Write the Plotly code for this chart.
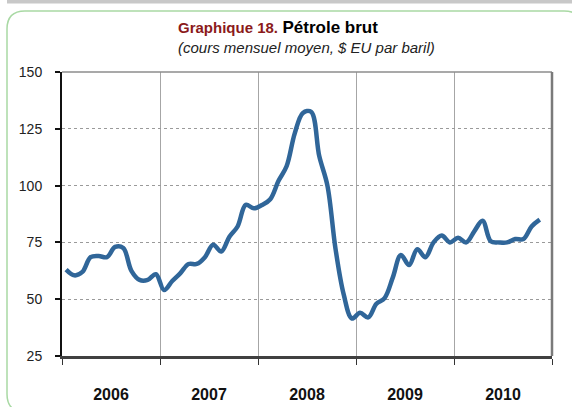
import plotly.graph_objects as go

# ---- data (monthly average crude oil price, US$ per barrel) ----
years = ["2006", "2007", "2008", "2009", "2010"]
oil_2006 = [63, 60.5, 62, 68.5, 69, 68.5, 73, 72.5, 62.5, 58.5, 58.5, 61]
oil_2007 = [54, 58, 61.5, 65.5, 65.5, 68.5, 74, 71, 77.5, 82, 91.5, 90]
oil_2008 = [91.5, 94, 102, 108.5, 123, 132, 132.5, 113, 100, 72, 52, 41.5]
oil_2009 = [44, 42, 48, 50.5, 59.5, 69.5, 65, 72, 68.5, 75, 78, 75]
oil_2010 = [77, 75, 80, 84.5, 75.5, 75, 75, 76.5, 76.5, 82, 85]
y_ticks = [25, 50, 75, 100, 125, 150]

values = oil_2006 + oil_2007 + oil_2008 + oil_2009 + oil_2010
x_month = [i + 0.5 for i in range(len(values))]          # mid-month positions
year_centers = [12 * k + 6 for k in range(len(years))]
year_bounds = [12 * k for k in range(len(years) + 1)]

# ---- layout geometry (pixels) ----
W, H = 572, 407
L, R, T, B = 62, 20, 72, 51
pw, ph = W - L - R, H - T - B


def px(x):
    return (x - L) / pw


def py(y):
    return (H - B - y) / ph


fig = go.Figure()
fig.add_trace(go.Scatter(
    x=x_month, y=values, mode="lines",
    line=dict(color="#306699", width=4.5, shape="spline", smoothing=1.0),
    hoverinfo="skip", showlegend=False,
))

# rounded green frame
fl, ft, fr, fb, rad = 7, 11, 582, 412, 18
frame_path = (
    f"M {px(fl)} {py(ft + rad)} Q {px(fl)} {py(ft)} {px(fl + rad)} {py(ft)} "
    f"L {px(fr - rad)} {py(ft)} Q {px(fr)} {py(ft)} {px(fr)} {py(ft + rad)} "
    f"L {px(fr)} {py(fb - rad)} Q {px(fr)} {py(fb)} {px(fr - rad)} {py(fb)} "
    f"L {px(fl + rad)} {py(fb)} Q {px(fl)} {py(fb)} {px(fl)} {py(fb - rad)} Z"
)
shapes = [
    dict(type="rect", xref="paper", yref="paper", x0=px(7), x1=px(575), y0=py(0), y1=py(3.5),
         fillcolor="#c8c8c8", line=dict(width=0), layer="below"),
    dict(type="path", xref="paper", yref="paper", path=frame_path,
         line=dict(color="#a9d9a4", width=1.5), fillcolor="rgba(0,0,0,0)", layer="below"),
    # top and right plot border
    dict(type="line", xref="paper", yref="paper", x0=0, x1=1, y0=1, y1=1,
         line=dict(color="#8c8c8c", width=1.5)),
    dict(type="line", xref="paper", yref="paper", x0=1, x1=1, y0=0, y1=1,
         line=dict(color="#7a7a7a", width=2.5)),
]

annotations = [
    dict(xref="paper", yref="paper", x=px(278), y=py(28), xanchor="center", yanchor="middle",
         showarrow=False,
         text="<b><span style='color:#8B1A1A;font-size:15px'>Graphique 18.</span>"
              " <span style='color:#000000;font-size:17px'>Pétrole brut</span></b>",
         font=dict(family="Liberation Sans, Arial, sans-serif", size=16)),
    dict(xref="paper", yref="paper", x=px(306), y=py(47), xanchor="center", yanchor="middle",
         showarrow=False, text="<i>(cours mensuel moyen, $ EU par baril)</i>",
         font=dict(family="Liberation Sans, Arial, sans-serif", size=15, color="#222222")),
]

fig.update_layout(
    width=W, height=H,
    margin=dict(l=L, r=R, t=T, b=B, pad=0, autoexpand=False),
    paper_bgcolor="white", plot_bgcolor="white",
    font=dict(family="Liberation Sans, Arial, sans-serif", color="#111111"),
    shapes=shapes, annotations=annotations,
    xaxis=dict(
        range=[0, 60], tickmode="array", tickvals=year_centers, ticktext=years,
        ticks="", showgrid=False, zeroline=False, automargin=False,
        tickfont=dict(size=16, color="#111111", family="Liberation Sans, Arial, sans-serif", weight="bold"),
        ticklabelstandoff=22,
        showline=True, linecolor="#404040", linewidth=2.5,
        minor=dict(tickmode="array", tickvals=year_bounds, ticks="outside", ticklen=6,
                   tickcolor="#333333", tickwidth=1.2, showgrid=True,
                   gridcolor="#a6a6a6", gridwidth=1),
    ),
    yaxis=dict(
        range=[25, 150], tickmode="array", tickvals=y_ticks, automargin=False,
        ticks="outside", ticklen=5, tickcolor="#111111", tickwidth=1.5,
        showgrid=True, gridcolor="#9a9a9a", gridwidth=1, griddash="dot",
        zeroline=False, showline=True, linecolor="#111111", linewidth=2,
        tickfont=dict(size=14, color="#222222"), ticklabelstandoff=10,
    ),
)

fig.write_html("out.html", config={"displayModeBar": False},
               post_script="document.body.style.margin='0px';")
